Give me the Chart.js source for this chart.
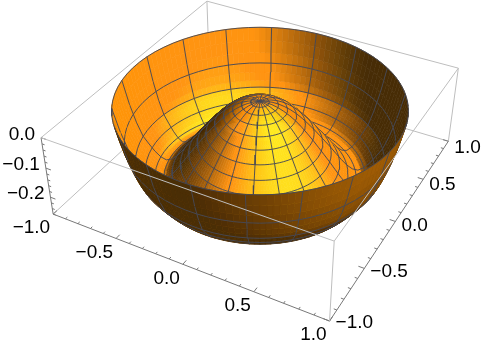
<!DOCTYPE html>
<html>
<head>
<meta charset="utf-8">
<style>
  html, body { margin: 0; padding: 0; background: #fff; }
  canvas { display: block; }
</style>
<script src="https://cdn.jsdelivr.net/npm/chart.js@4/dist/chart.umd.js"></script>
</head>
<body>
<canvas id="c" width="482" height="349"></canvas>
<script>
// radial profile of the surface
const ringRadius = [0, .02, .04, .06, .08, .10, .12, .14, .16, .18, .20, .22, .24, .26, .28, .30, .32, .34, .36, .38, .40, .42, .44, .46, .48,
  .50, .52, .54, .56, .58, .60, .62, .64, .66, .68, .70, .72, .74, .76, .78, .80, .82, .84, .86, .88, .90, .92, .94, .96];
const ringHeight = [0, -.0005, -.0015, -.003, -.0055, -.0085, -.012, -.0165, -.0215, -.027, -.033, -.040, -.047, -.055, -.064, -.073, -.083, -.093, -.103, -.114, -.125, -.136, -.147, -.158, -.169,
  -.181, -.193, -.205, -.216, -.227, -.237, -.245, -.252, -.256, -.258, -.256, -.250, -.243, -.233, -.222, -.210, -.198, -.185, -.165, -.14, -.112, -.08, -.042, 0];
const xTickLabels = ['\u22121.0', '\u22120.5', '0.0', '0.5', '1.0'];
const yTickLabels = ['\u22121.0', '\u22120.5', '0.0', '0.5', '1.0'];
const zTickLabels = ['0.0', '\u22120.1', '\u22120.2'];
const xyTicks = [-1, -.5, 0, .5, 1];
const zTicks = [0, -.1, -.2];
const zMin = -.26, zMax = 0;

// Mathematica's default camera
const view = [1.3, -2.4, 2];
const zoom = 1011, cx = 260, cy = 139.6;
const viewLen = Math.hypot(...view);
const fwd = view.map(v => -v / viewLen);
const rLen = Math.hypot(fwd[0], fwd[1]);
const right = [fwd[1] / rLen, -fwd[0] / rLen, 0];
const up = [right[1] * fwd[2], -right[0] * fwd[2], right[0] * fwd[1] - right[1] * fwd[0]];
const dot = (a, b) => a[0] * b[0] + a[1] * b[1] + a[2] * b[2];

function box(x, y, z) {
  return [x / 2, y / 2, -.155 + .31 * (z - zMin) / (zMax - zMin)];
}
function project(p) {
  const d = viewLen + dot(fwd, p);
  return { x: cx + zoom * dot(right, p) / d, y: cy - zoom * dot(up, p) / d };
}
function dist(p) {
  return Math.hypot(p[0] - view[0], p[1] - view[1], p[2] - view[2]);
}

// warm lights, given as right / up / toward the viewer
const redLight = [.5, .35, .79];
const greenLight = [.25, .25, .93];

function shade(n, p) {
  const toEye = [view[0] - p[0], view[1] - p[1], view[2] - p[2]];
  if (dot(n, toEye) < 0) n = n.map(v => -v);
  const cam = [dot(n, right), dot(n, up), -dot(n, fwd)];
  const under = n[2] < 0; // outside of the bowl
  let kr = Math.max(0, dot(cam, redLight));
  let kg = Math.max(0, dot(cam, greenLight));
  if (under) { kr = kr * .65 + .03; kg = 0; }
  const R = .28 + 1.6 * Math.pow(kr, 1.5);
  const lobe = Math.pow(kg, 3);
  const cap = R < 1 ? .62 * R : .62 * R * R;
  const G = Math.max(.58 * Math.min(R, 1), Math.min(.18 + .75 * lobe, cap));
  const B = .02 + .1 * lobe;
  return 'rgb(' + [R, G, B].map(v => Math.min(255, Math.round(255 * v))).join(',') + ')';
}

const thetaStep = 2.5, thetaOffset = 13.4, meshEvery = 8; // 18 spokes
const items = [];

function surfacePoint(i, t) {
  const a = (thetaOffset + t * thetaStep) * Math.PI / 180;
  return box(ringRadius[i] * Math.cos(a), ringRadius[i] * Math.sin(a), ringHeight[i]);
}

function seg(a, b, col, w) {
  return { data: [a, b].map(project), showLine: true, fill: false, tension: 0, borderColor: col, borderWidth: w, pointRadius: 0 };
}

const nTheta = 360 / thetaStep;
const meshCol = 'rgba(68,72,86,.92)';
const meshBias = .03;
for (let i = 0; i < ringRadius.length - 1; i++) {
  for (let t = 0; t < nTheta; t++) {
    const a = surfacePoint(i, t), b = surfacePoint(i + 1, t), c = surfacePoint(i + 1, t + 1), d = surfacePoint(i, t + 1);
    const mid = [0, 1, 2].map(k => (a[k] + b[k] + c[k] + d[k]) / 4);
    const e1 = [0, 1, 2].map(k => c[k] - a[k]);
    const e2 = [0, 1, 2].map(k => d[k] - b[k]);
    const n = [e1[1] * e2[2] - e1[2] * e2[1], e1[2] * e2[0] - e1[0] * e2[2], e1[0] * e2[1] - e1[1] * e2[0]];
    const nl = Math.hypot(...n) || 1;
    const col = shade(n.map(v => v / nl), mid);
    items.push({
      depth: dist(mid),
      ds: {
        data: [a, b, c, d, a].map(project), showLine: true, fill: 'shape', tension: 0,
        backgroundColor: col, borderColor: col, borderWidth: .6, pointRadius: 0
      }
    });
    // mesh edges, two cells long
    if (t % meshEvery === 0 && i % 2 === 0) {
      items.push({ depth: dist(b) - meshBias, ds: seg(a, surfacePoint(i + 2, t), meshCol, 1) });
    }
    if ((i + 1) % 3 === 0 && t % 2 === 0) {
      items.push({ depth: dist(c) - meshBias, ds: seg(b, surfacePoint(i + 1, t + 2), meshCol, 1) });
    }
  }
}

// bounding box
const near = -1, far = 99;
const boxLight = 'rgb(190,190,190)', axisDark = 'rgb(120,120,120)';
function edge(p, q, col, depth) {
  items.push({ depth: depth, ds: seg(box(...p), box(...q), col, 1) });
}
edge([-1, -1, 0], [-1, 1, 0], boxLight, far);
edge([-1, 1, 0], [1, 1, 0], boxLight, far);
edge([-1, 1, 0], [-1, 1, zMin], boxLight, far);
edge([1, 1, 0], [1, 1, zMin], boxLight, far);
edge([-1, -1, zMin], [-1, 1, zMin], boxLight, far);
edge([-1, 1, zMin], [1, 1, zMin], boxLight, far);
edge([-1, -1, 0], [1, -1, 0], boxLight, near);
edge([1, -1, 0], [1, 1, 0], boxLight, near);
edge([1, -1, 0], [1, -1, zMin], boxLight, near);
edge([-1, -1, 0], [-1, -1, zMin], axisDark, near);
edge([-1, -1, zMin], [1, -1, zMin], axisDark, near);
edge([1, -1, zMin], [1, 1, zMin], axisDark, near);

// ticks
for (let k = 0; k <= 20; k++) {
  const v = -1 + k / 10;
  const len = k % 5 === 0 ? .04 : .02;
  edge([v, -1, zMin], [v, -1 + len, zMin], axisDark, near);
  edge([1, v, zMin], [1 - len, v, zMin], axisDark, near);
}
for (let k = 0; k <= 13; k++) {
  const v = -k * .02;
  const len = k % 5 === 0 ? .04 : .02;
  edge([-1, -1, v], [-1 + len, -1, v], axisDark, near);
}

items.sort((a, b) => a.depth - b.depth);

const tickText = {
  id: 'tickText',
  afterDraw(chart) {
    const { ctx, scales } = chart;
    ctx.save();
    ctx.fillStyle = '#000';
    ctx.font = '19px "Liberation Sans"';
    ctx.textBaseline = 'middle';
    const put = (s, p, dx, dy, align) => {
      const q = project(p);
      ctx.textAlign = align;
      ctx.fillText(s, scales.x.getPixelForValue(q.x) + dx, scales.y.getPixelForValue(q.y) + dy);
    };
    xyTicks.forEach((v, i) => put(xTickLabels[i], box(v, -1, zMin), -3, 14, 'right'));
    xyTicks.forEach((v, i) => put(yTickLabels[i], box(1, v, zMin), 6, 4.5 + 2.5 * v, 'left'));
    zTicks.forEach((v, i) => put(zTickLabels[i], box(-1, -1, v), -6, -3, 'right'));
    ctx.restore();
  }
};

new Chart(document.getElementById('c'), {
  type: 'scatter',
  data: { datasets: items.map(it => it.ds) },
  options: {
    responsive: false,
    animation: false,
    parsing: false,
    events: [],
    layout: { padding: 0 },
    plugins: { legend: { display: false }, tooltip: { enabled: false } },
    scales: {
      x: { type: 'linear', min: 0, max: 482, display: false },
      y: { type: 'linear', min: 0, max: 349, reverse: true, display: false }
    }
  },
  plugins: [tickText]
});
</script>
</body>
</html>
